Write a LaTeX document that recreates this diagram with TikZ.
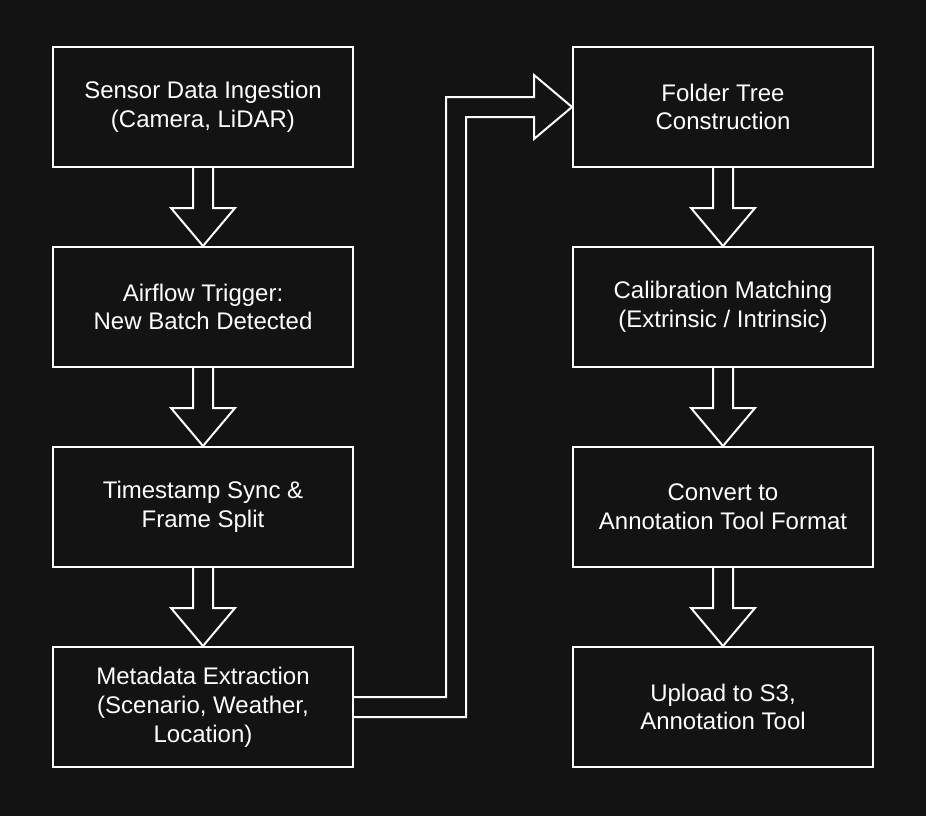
\documentclass[tikz,border=0pt]{standalone}
\usepackage{fontspec}
\setmainfont{Liberation Sans}
\usepackage{xcolor}
\definecolor{bgdark}{RGB}{19,19,19}
\definecolor{lineclr}{RGB}{255,255,255}
\usetikzlibrary{positioning,calc}
\tikzset{
  stepbox/.style={rectangle,draw=lineclr,fill=bgdark,line width=2pt,text=white,
    minimum width=300pt,minimum height=120pt,inner sep=0pt,align=center,
    font=\fontsize{24}{28.8}\selectfont},
  blockarr/.style={draw=lineclr,line width=2pt,miter limit=10},
}
% hollow block arrow pointing down, from #1.south to #2.north
\newcommand{\blockdown}[2]{%
  \draw[blockarr] ($(#1.south)+(-10,0)$) -- ($(#2.north)+(-10,38)$)
    -- ($(#2.north)+(-32,38)$) -- (#2.north) -- ($(#2.north)+(32,38)$)
    -- ($(#2.north)+(10,38)$) -- ($(#1.south)+(10,0)$);}

\begin{document}
\begin{tikzpicture}[x=1pt,y=1pt,node distance=78pt]
  \fill[bgdark] (0,0) rectangle (926,-816);
  % left column
  \node (ingest)[stepbox] at (203,-107) {Sensor Data Ingestion\\(Camera, LiDAR)};
  \node (trig)  [stepbox,below=of ingest] {Airflow Trigger:\\New Batch Detected};
  \node (sync)  [stepbox,below=of trig]   {Timestamp Sync \&\\Frame Split};
  \node (meta)  [stepbox,below=of sync]   {Metadata Extraction\\(Scenario, Weather,\\Location)};
  % right column
  \node (tree)  [stepbox] at (723,-107)   {Folder Tree\\Construction};
  \node (calib) [stepbox,below=of tree]   {Calibration Matching\\(Extrinsic / Intrinsic)};
  \node (conv)  [stepbox,below=of calib]  {Convert to\\Annotation Tool Format};
  \node (upl)   [stepbox,below=of conv]   {Upload to S3,\\Annotation Tool};
  \blockdown{ingest}{trig} \blockdown{trig}{sync} \blockdown{sync}{meta}
  \blockdown{tree}{calib} \blockdown{calib}{conv} \blockdown{conv}{upl}
  % elbow arrow across the columns
  \coordinate (elbow) at ($(meta.east)+(102,0)$);
  \draw[blockarr] ($(meta.east)+(0,10)$) -- ($(elbow)+(-10,10)$)
    -- ($(elbow |- tree.west)+(-10,10)$) -- ($(tree.west)+(-38,10)$)
    -- ($(tree.west)+(-38,32)$) -- (tree.west) -- ($(tree.west)+(-38,-32)$)
    -- ($(tree.west)+(-38,-10)$) -- ($(elbow |- tree.west)+(10,-10)$)
    -- ($(elbow)+(10,-10)$) -- ($(meta.east)+(0,-10)$);
\end{tikzpicture}
\end{document}
